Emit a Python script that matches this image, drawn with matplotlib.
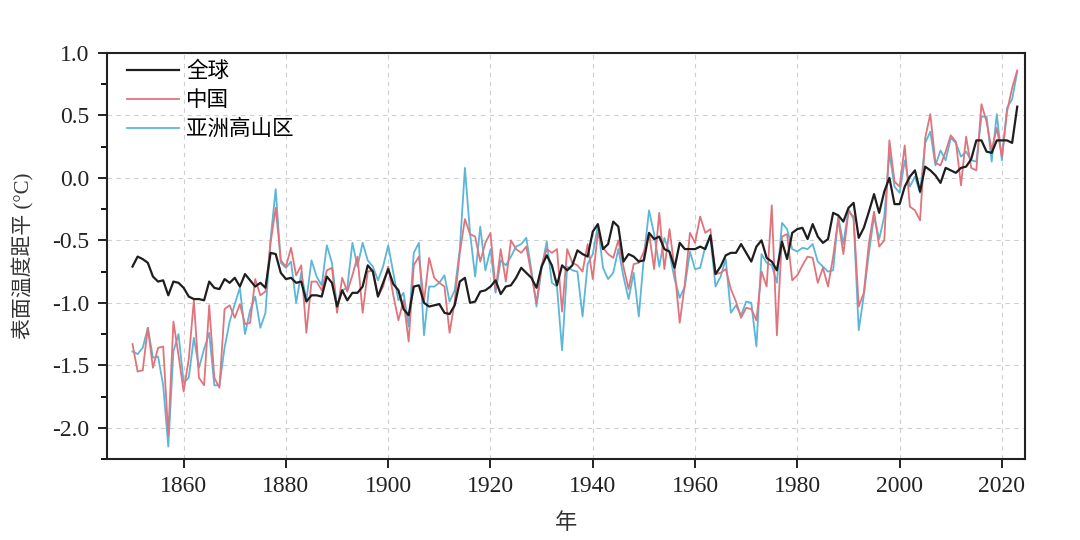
import numpy as np
import matplotlib
matplotlib.use("Agg")
import matplotlib.pyplot as plt
from matplotlib.ticker import MultipleLocator, FormatStrFormatter

plt.rcParams["axes.unicode_minus"] = False

years = np.arange(1850, 2024)

# 全球
global_anom = [
    -0.71, -0.63, -0.65, -0.68, -0.79, -0.83, -0.82, -0.94, -0.83, -0.84,  # 1850
    -0.88, -0.95, -0.97, -0.97, -0.98, -0.83, -0.88, -0.89, -0.81, -0.84,  # 1860
    -0.80, -0.87, -0.77, -0.82, -0.87, -0.84, -0.88, -0.60, -0.61, -0.76,  # 1870
    -0.81, -0.80, -0.84, -0.83, -0.99, -0.94, -0.94, -0.95, -0.79, -0.84,  # 1880
    -1.03, -0.90, -0.98, -0.92, -0.92, -0.87, -0.70, -0.75, -0.95, -0.84,  # 1890
    -0.73, -0.85, -0.90, -1.05, -1.10, -0.87, -0.86, -1.00, -1.03, -1.02,  # 1900
    -1.01, -1.08, -1.09, -1.02, -0.83, -0.80, -1.00, -0.99, -0.91, -0.90,  # 1910
    -0.87, -0.82, -0.93, -0.87, -0.86, -0.80, -0.72, -0.76, -0.80, -0.88,  # 1920
    -0.71, -0.62, -0.70, -0.86, -0.70, -0.74, -0.70, -0.58, -0.61, -0.63,  # 1930
    -0.43, -0.37, -0.57, -0.53, -0.35, -0.39, -0.67, -0.61, -0.63, -0.67,  # 1940
    -0.66, -0.44, -0.49, -0.47, -0.57, -0.59, -0.72, -0.52, -0.57, -0.57,  # 1950
    -0.57, -0.55, -0.57, -0.46, -0.77, -0.71, -0.62, -0.60, -0.60, -0.53,  # 1960
    -0.60, -0.67, -0.55, -0.50, -0.64, -0.67, -0.74, -0.51, -0.65, -0.44,  # 1970
    -0.41, -0.40, -0.49, -0.37, -0.47, -0.52, -0.49, -0.28, -0.30, -0.35,  # 1980
    -0.24, -0.20, -0.48, -0.40, -0.27, -0.13, -0.28, -0.11, 0.00, -0.21,   # 1990
    -0.21, -0.07, 0.01, 0.06, -0.11, 0.09, 0.06, 0.02, -0.04, 0.08,        # 2000
    0.06, 0.04, 0.08, 0.09, 0.15, 0.30, 0.30, 0.21, 0.20, 0.30,            # 2010
    0.30, 0.30, 0.28, 0.57,                                                # 2020
]

# 中国
china_anom = [
    -1.33, -1.55, -1.54, -1.20, -1.52, -1.36, -1.35, -2.06, -1.15, -1.42,  # 1850
    -1.71, -1.45, -0.98, -1.60, -1.66, -1.02, -1.60, -1.68, -1.05, -1.02,  # 1860
    -1.12, -1.01, -1.17, -1.16, -0.81, -0.94, -0.91, -0.52, -0.24, -0.66,  # 1870
    -0.71, -0.56, -0.78, -0.70, -1.24, -0.83, -0.83, -0.90, -0.74, -0.72,  # 1880
    -1.08, -0.80, -0.91, -0.78, -0.63, -1.08, -0.75, -0.74, -0.95, -0.87,  # 1890
    -0.71, -0.94, -1.14, -0.98, -1.31, -0.70, -0.63, -0.99, -0.64, -0.80,  # 1900
    -0.84, -0.87, -1.24, -0.99, -0.60, -0.33, -0.45, -0.47, -0.67, -0.52,  # 1910
    -0.44, -0.90, -0.57, -0.83, -0.50, -0.57, -0.60, -0.55, -0.77, -1.00,  # 1920
    -0.70, -0.57, -0.60, -0.57, -1.07, -0.57, -0.68, -0.70, -0.75, -0.53,  # 1930
    -0.81, -0.44, -0.56, -0.61, -0.64, -0.50, -0.71, -0.89, -0.69, -0.68,  # 1940
    -0.59, -0.44, -0.73, -0.28, -0.73, -0.41, -0.73, -1.16, -0.85, -0.44,  # 1950
    -0.52, -0.31, -0.44, -0.41, -0.77, -0.76, -0.73, -0.89, -0.99, -1.12,  # 1960
    -1.04, -1.05, -1.14, -0.75, -0.87, -0.22, -1.26, -0.47, -0.45, -0.82,  # 1970
    -0.78, -0.70, -0.63, -0.64, -0.84, -0.72, -0.87, -0.63, -0.33, -0.61,  # 1980
    -0.27, -0.31, -1.03, -0.92, -0.52, -0.27, -0.55, -0.50, 0.30, -0.03,   # 1990
    -0.07, 0.26, -0.23, -0.26, -0.34, 0.32, 0.51, 0.12, 0.10, 0.21,        # 2000
    0.34, 0.29, -0.06, 0.33, 0.08, 0.06, 0.59, 0.45, 0.22, 0.40,           # 2010
    0.17, 0.53, 0.72, 0.86,                                                # 2020
]

# 亚洲高山区
hma_anom = [
    -1.39, -1.41, -1.36, -1.20, -1.44, -1.43, -1.66, -2.15, -1.39, -1.25,  # 1850
    -1.64, -1.60, -1.28, -1.52, -1.37, -1.24, -1.66, -1.66, -1.36, -1.15,  # 1860
    -1.01, -0.88, -1.25, -1.06, -0.95, -1.20, -1.08, -0.49, -0.09, -0.68,  # 1870
    -0.72, -0.67, -1.00, -0.76, -0.98, -0.66, -0.79, -0.86, -0.54, -0.68,  # 1880
    -1.03, -0.90, -0.88, -0.52, -0.71, -0.52, -0.66, -0.71, -0.82, -0.71,  # 1890
    -0.54, -0.76, -0.98, -0.92, -1.19, -0.60, -0.52, -1.26, -0.87, -0.87,  # 1900
    -0.84, -0.78, -0.99, -0.90, -0.57, 0.08, -0.44, -0.79, -0.39, -0.74,   # 1910
    -0.57, -0.92, -0.66, -0.70, -0.63, -0.55, -0.53, -0.48, -0.74, -1.03,  # 1920
    -0.72, -0.51, -0.84, -0.87, -1.38, -0.71, -0.74, -0.75, -1.11, -0.69,  # 1930
    -0.61, -0.38, -0.72, -0.81, -0.76, -0.57, -0.79, -0.97, -0.76, -1.11,  # 1940
    -0.63, -0.26, -0.45, -0.71, -0.48, -0.60, -0.81, -0.96, -0.87, -0.59,  # 1950
    -0.73, -0.72, -0.55, -0.47, -0.87, -0.79, -0.65, -1.08, -1.02, -1.10,  # 1960
    -0.99, -1.00, -1.35, -0.61, -0.68, -0.70, -0.84, -0.36, -0.41, -0.57,  # 1970
    -0.59, -0.56, -0.57, -0.53, -0.67, -0.71, -0.75, -0.74, -0.31, -0.53,  # 1980
    -0.25, -0.33, -1.22, -0.94, -0.60, -0.31, -0.49, -0.31, 0.20, -0.07,   # 1990
    -0.12, 0.14, -0.07, 0.01, -0.12, 0.28, 0.37, 0.10, 0.22, 0.14,         # 2000
    0.32, 0.28, 0.17, 0.21, 0.14, 0.13, 0.49, 0.49, 0.13, 0.51,            # 2010
    0.14, 0.56, 0.63, 0.85,                                                # 2020
]

labels = ["全球", "中国", "亚洲高山区"]

serif = ["Liberation Serif", "DejaVu Serif"]
mixed = ["Liberation Serif", "Noto Sans CJK SC", "DejaVu Sans"]
cjk = ["Noto Sans CJK SC", "DejaVu Sans"]

fig = plt.figure(figsize=(10.8, 5.4), dpi=100)
ax = fig.add_axes([0.099, 0.15, 0.850, 0.752])

l_hma, = ax.plot(years, hma_anom, color="#5bb6d8", lw=1.3)
l_cn, = ax.plot(years, china_anom, color="#e0747c", lw=1.3)
l_gl, = ax.plot(years, global_anom, color="#1e1e1e", lw=1.6)

ax.set_xlim(1845, 2024.5)
ax.set_ylim(-2.25, 1.0)
ax.xaxis.set_major_locator(MultipleLocator(20))
ax.yaxis.set_major_locator(MultipleLocator(0.5))
ax.yaxis.set_minor_locator(MultipleLocator(0.25))
ax.yaxis.set_major_formatter(FormatStrFormatter("%.1f"))

ax.grid(True, which="major", ls=(0, (4, 4)), color="#cfcfcf", lw=0.8)
ax.set_axisbelow(True)

for s in ax.spines.values():
    s.set_linewidth(1.5)
    s.set_color("#222222")
ax.tick_params(which="major", direction="out", length=6.5, width=1.4,
               labelsize=17, colors="#222222", pad=6)
ax.tick_params(which="minor", direction="out", length=4, width=1.3)
for lab in ax.get_xticklabels() + ax.get_yticklabels():
    lab.set_family(serif)

ax.set_xlabel("年", family=cjk, fontsize=16, color="#333333", labelpad=10)
ax.set_ylabel("表面温度距平 (°C)", family=mixed, fontsize=15, color="#333333",
              labelpad=13)

leg = ax.legend([l_gl, l_cn, l_hma], labels, loc="upper left",
                bbox_to_anchor=(0.0135, 1.0), borderaxespad=0, borderpad=0.35,
                frameon=False, handlelength=2.4, handletextpad=0.35,
                labelspacing=0.32, prop={"family": cjk, "size": 15.5})

fig.savefig("out.png", dpi=100)
